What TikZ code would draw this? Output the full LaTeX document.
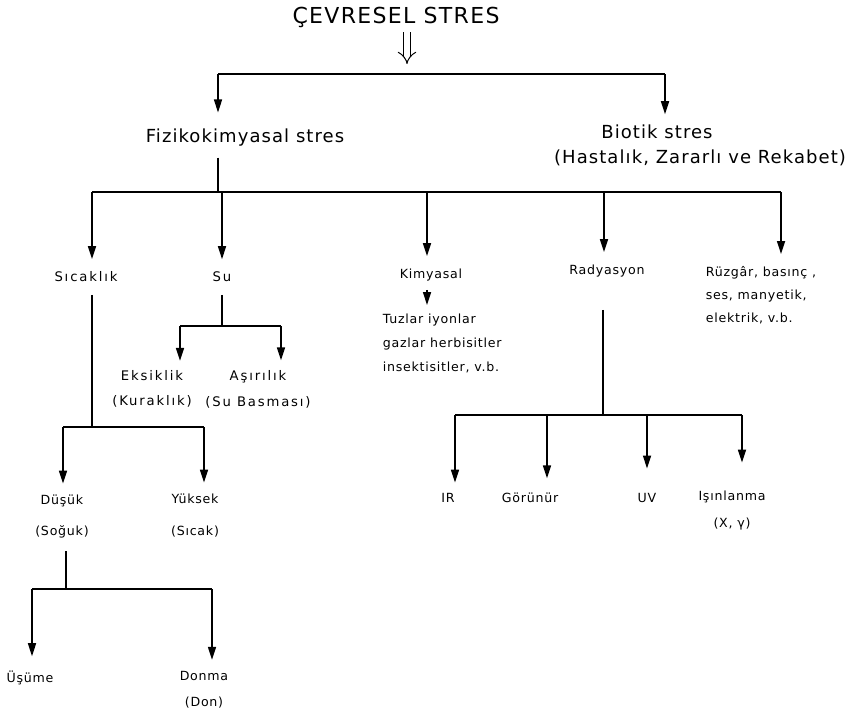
\documentclass[tikz,border=0pt]{standalone}
\usepackage{fontspec}
\setmainfont{DejaVu Sans}[LetterSpace=6]
\newfontfamily\widefont{DejaVu Sans}[LetterSpace=14]
\usepackage{tikz}
\usetikzlibrary{positioning, arrows.meta}

\begin{document}
\begin{tikzpicture}[x=0.5pt, y=-0.5pt, line width=0.8pt,
  arr/.style={-{Triangle[length=6.5pt,width=4pt]}},
  small/.style={font=\fontsize{6.3}{12}\selectfont, inner sep=0pt, align=center},
  wide/.style={font=\widefont\fontsize{6.6}{12}\selectfont, inner sep=0pt, align=center},
  medium/.style={font=\fontsize{9}{12}\selectfont, inner sep=0pt, align=center}]
\useasboundingbox (0,0) rectangle (854,712);

% Title
\node[font=\fontsize{11}{13}\selectfont, inner sep=0pt] (title) at (396,17) {ÇEVRESEL STRES};
\coordinate (titletip) at (407,64);
\draw[double, double distance=2.8pt, line width=0.5pt, -{Implies}, shorten <=2pt]
  (title.south -| titletip) -- (titletip);

% First split
\node[medium] (fiziko) at (245,138) {Fizikokimyasal stres};
\node[medium] (biotik) at (657,132) {Biotik stres};
\node[medium] (biotikalt) at (700,158) {(Hastalık, Zararlı ve Rekabet)};
\coordinate (topL) at (218,74);
\coordinate (topR) at (665,74);
\draw (topL) -- (topR);
\draw[arr, shorten >=8pt] (topL) -- (topL |- fiziko.north);
\draw[arr, shorten >=5pt] (topR) -- (topR |- biotik.north);

% Second split
\node[wide] (sicak) at (86,277) {Sıcaklık};
\node[wide] (su) at (222,277) {Su};
\node[small] (kimya) at (431,275) {Kimyasal};
\node[small] (rad) at (607,271) {Radyasyon};
\node[small, align=left, anchor=north west, font=\fontsize{6.3}{11.5}\selectfont] (ruz) at (705,266)
  {Rüzgâr, basınç ,\\ses, manyetik,\\elektrik, v.b.};
\coordinate (barL) at (92,192);
\coordinate (barR) at (781,192);
\draw[shorten <=5pt] (fiziko.south -| topL) -- (topL |- barL);
\draw (barL) -- (barR);
\draw[arr, shorten >=6pt] (barL) -- (barL |- sicak.north);
\draw[arr, shorten >=6pt] (su.north |- barL) -- (su.north);
\draw[arr, shorten >=6pt] (427,192) -- (427,192 |- kimya.north);
\draw[arr, shorten >=6pt] (604,192) -- (604,192 |- rad.north);
\draw[arr, shorten >=6pt] (barR) -- (barR |- ruz.north);

% Kimyasal
\node[small, align=left, anchor=north west] (tuz) at (382,313)
  {Tuzlar iyonlar\\gazlar herbisitler\\insektisitler, v.b.};
\draw[arr, shorten <=4pt, shorten >=4pt] (427,0 |- kimya.south) -- (427,0 |- tuz.north);

% Su
\node[wide] (eks) at (152,389) {Eksiklik\\[0.5pt](Kuraklık)};
\node[wide] (asiri) at (258,389) {Aşırılık\\[1pt](Su Basması)};
\coordinate (suL) at (180,326);
\coordinate (suR) at (281,326);
\draw[shorten <=6pt] (su.south) -- (su.south |- suL);
\draw (suL) -- (suR);
\draw[arr, shorten >=4.5pt] (suL) -- (suL |- eks.north);
\draw[arr, shorten >=4.5pt] (suR) -- (suR |- asiri.north);

% Sicaklik
\node[small] (dusuk) at (62,517) {Düşük\\[3.5pt](Soğuk)};
\node[small] (yuksek) at (195,516) {Yüksek\\[4pt](Sıcak)};
\coordinate (sicL) at (63,427);
\coordinate (sicR) at (204,427);
\draw[shorten <=6pt] (sicak.south -| barL) -- (barL |- sicL);
\draw (sicL) -- (sicR);
\draw[arr, shorten >=5.5pt] (sicL) -- (sicL |- dusuk.north);
\draw[arr, shorten >=5.5pt] (sicR) -- (sicR |- yuksek.north);

% Dusuk
\node[small] (usume) at (30,678) {Üşüme};
\node[small] (donma) at (204,690) {Donma\\[1pt](Don)};
\coordinate (dusL) at (32,589);
\coordinate (dusR) at (212,589);
\draw[shorten <=6pt] (66,0 |- dusuk.south) -- (66,0 |- dusL);
\draw (dusL) -- (dusR);
\draw[arr, shorten >=7pt] (dusL) -- (dusL |- usume.north);
\draw[arr, shorten >=5.5pt] (dusR) -- (dusR |- donma.north);

% Radyasyon
\node[small] (ir) at (448,498) {IR};
\node[small] (gorunur) at (530,498) {Görünür};
\node[small] (uv) at (647,498) {UV};
\node[small] (isin) at (732,511) {Işınlanma\\[1.5pt](X, γ)};
\coordinate (radL) at (455,415);
\coordinate (radR) at (742,415);
\draw[shorten <=16pt] (rad.south -| 603,0) -- (603,0 |- radL);
\draw (radL) -- (radR);
\draw[arr, shorten >=5pt] (radL) -- (radL |- ir.north);
\draw[arr, shorten >=7pt] (547,415) -- (547,415 |- gorunur.north);
\draw[arr, shorten >=12pt] (647,415) -- (uv.north);
\draw[arr, shorten >=14pt] (radR) -- (radR |- isin.north);

\end{tikzpicture}
\end{document}
